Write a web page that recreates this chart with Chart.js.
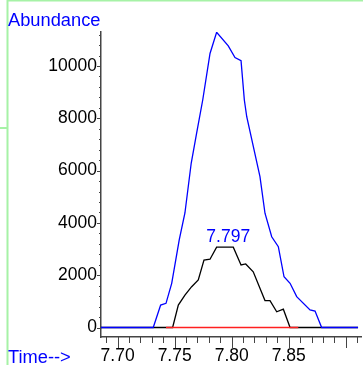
<!DOCTYPE html>
<html>
<head>
<meta charset="utf-8">
<script src="https://cdn.jsdelivr.net/npm/chart.js@4.4.0/dist/chart.umd.min.js"></script>
<style>
  html, body { margin: 0; padding: 0; background: #fff; }
  canvas { display: block; }
</style>
</head>
<body>
<canvas id="myChart" width="363" height="365"></canvas>
<script>
// values (time in min, abundance in counts)
const ticTime = [7.6854, 7.7312, 7.7377, 7.7424, 7.7474, 7.7540, 7.7590, 7.7645, 7.7693, 7.7746, 7.7810, 7.7868, 7.7970, 7.8029, 7.8082, 7.8111, 7.8132, 7.8248, 7.8292, 7.8351, 7.8409, 7.8459, 7.8512, 7.8570, 7.8687, 7.8731, 7.8789, 7.9108]
const ticAbund = [0, 0, 860, 925, 1690, 3350, 4380, 6280, 7440, 8700, 10480, 11290, 10770, 10320, 10200, 8700, 8060, 5770, 4370, 3470, 3090, 1940, 1690, 1180, 670, 630, 0, 0]

const eicTime = [7.6854, 7.7482, 7.7532, 7.7590, 7.7649, 7.7707, 7.7757, 7.7810, 7.7868, 7.8014, 7.8082, 7.8123, 7.8189, 7.8292, 7.8336, 7.8395, 7.8453, 7.8512, 7.9108]
const eicAbund = [0, 0, 860, 1240, 1560, 1820, 2580, 2610, 3070, 3070, 2390, 2430, 2130, 1030, 1030, 600, 700, 0, 0]

const baseTime = [7.7424, 7.8584]
const baseAbund = [0, 0]

const peakTime = 7.797
const peakLabel = '7.797'

const xTickLabels = ['7.70', '7.75', '7.80', '7.85']
const yTickLabels = ['0', '2000', '4000', '6000', '8000', '10000']

const toPoints = (xs, ys) => xs.map((x, i) => ({ x: x, y: ys[i] }))

Chart.defaults.font.family = '"Liberation Sans", Arial, sans-serif'
Chart.defaults.font.size = 17.5
Chart.defaults.color = '#000'

// frame, minor ticks and the blue texts
const decorations = {
  id: 'decorations',
  afterDraw (chart) {
    const ctx = chart.ctx
    const xs = chart.scales.x
    const ys = chart.scales.y
    const area = chart.chartArea
    ctx.save()

    ctx.strokeStyle = '#a6f2a6'
    ctx.lineWidth = 2
    ctx.beginPath()
    ctx.moveTo(7.5, 0); ctx.lineTo(7.5, 365)
    ctx.moveTo(7, 0.5); ctx.lineTo(363, 0.5)
    ctx.moveTo(0, 128); ctx.lineTo(7, 128)
    ctx.stroke()

    ctx.strokeStyle = '#444'
    ctx.lineWidth = 1
    ctx.beginPath()
    for (let i = 769; i <= 791; i++) {
      const px = Math.round(xs.getPixelForValue(i / 100)) + 0.5
      ctx.moveTo(px, area.bottom)
      ctx.lineTo(px, area.bottom + (i % 5 === 0 ? 11 : 6))
    }
    for (let v = 0; v <= 11200; v += 400) {
      const py = Math.round(ys.getPixelForValue(v)) + 0.5
      ctx.moveTo(area.left, py)
      ctx.lineTo(area.left - (v % 2000 === 0 ? 4 : 2), py)
    }
    ctx.stroke()

    ctx.fillStyle = '#0000ff'
    ctx.font = '18.3px "Liberation Sans", Arial, sans-serif'
    ctx.textAlign = 'left'
    ctx.textBaseline = 'alphabetic'
    ctx.fillText('Abundance', 8, 26)
    ctx.fillText('Time-->', 8, 363)

    const peakTop = Math.max(...eicAbund)
    ctx.font = '17.5px "Liberation Sans", Arial, sans-serif'
    ctx.textAlign = 'center'
    ctx.fillText(peakLabel, xs.getPixelForValue(peakTime), ys.getPixelForValue(peakTop) - 5)
    ctx.restore()
  }
}

const ctx = document.getElementById('myChart').getContext('2d')
const myChart = new Chart(ctx, {
  type: 'line',
  data: {
    datasets: [{
      data: toPoints(baseTime, baseAbund),
      borderColor: '#ff2020',
      borderWidth: 1.3,
      order: 0
    }, {
      data: toPoints(ticTime, ticAbund),
      borderColor: '#0000ff',
      borderWidth: 1.3,
      order: 1
    }, {
      data: toPoints(eicTime, eicAbund),
      borderColor: '#000',
      borderWidth: 1.3,
      order: 2
    }]
  },
  options: {
    responsive: false,
    animation: false,
    events: [],
    layout: { padding: { left: 0, top: 32, right: 2, bottom: 0 } },
    elements: {
      point: { radius: 0 },
      line: { tension: 0, fill: false }
    },
    plugins: {
      legend: { display: false },
      tooltip: { enabled: false }
    },
    scales: {
      x: {
        type: 'linear',
        min: 7.6854,
        max: 7.9134,
        grid: { display: false, drawTicks: false },
        border: { display: true, color: '#444', width: 1.5 },
        afterBuildTicks: (axis) => { axis.ticks = xTickLabels.map(t => ({ value: Number(t) })) },
        afterFit: (axis) => { axis.height = 28 },
        ticks: {
          autoSkip: false,
          maxRotation: 0,
          padding: 9,
          callback: (v) => Number(v).toFixed(2)
        }
      },
      y: {
        type: 'linear',
        min: -363,
        max: 11300,
        grid: { display: false, drawTicks: false },
        border: { display: true, color: '#444', width: 1.5 },
        afterBuildTicks: (axis) => { axis.ticks = yTickLabels.map(t => ({ value: Number(t) })) },
        afterFit: (axis) => { axis.width = 101 },
        ticks: {
          autoSkip: false,
          padding: 4,
          callback: (v) => String(v)
        }
      }
    }
  },
  plugins: [decorations]
})
</script>
</body>
</html>
